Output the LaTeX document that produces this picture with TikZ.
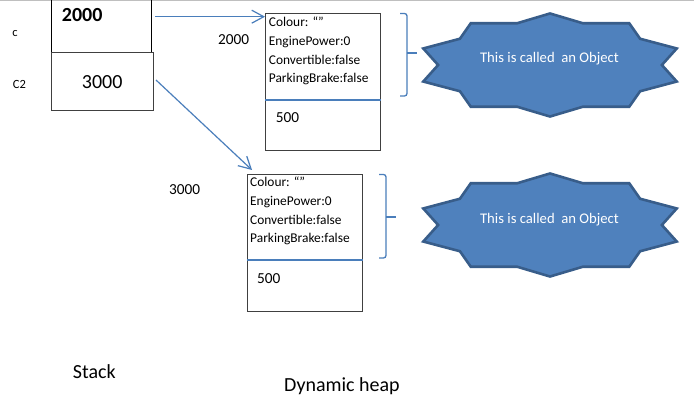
\documentclass[tikz,border=0pt]{standalone}
\usepackage{fontspec}
\setmainfont{Carlito}
\usetikzlibrary{arrows.meta}
\definecolor{lineblue}{HTML}{4A7EBB}
\definecolor{starfill}{HTML}{4F81BD}
\definecolor{starline}{HTML}{385D8A}
\definecolor{boxline}{HTML}{404040}
\tikzset{
  txt/.style={anchor=base west, inner sep=0pt, font=\fontsize{13.4}{16}\selectfont},
  label15/.style={anchor=base west, inner sep=0pt, font=\fontsize{15.3}{18}\selectfont},
  big/.style={anchor=base west, inner sep=0pt, font=\fontsize{20}{24}\selectfont},
  small/.style={anchor=base west, inner sep=0pt, font=\fontsize{12.5}{14}\selectfont},
  heapbox/.style={draw=boxline, line width=1pt, minimum width=115pt, anchor=north west, inner sep=0pt},
  divider/.style={draw=lineblue, line width=1.5pt},
  ptr/.style={draw=lineblue, line width=1.2pt, -{Straight Barb[length=12pt,width=13pt,line width=1.2pt]}},
  bracestyle/.style={draw=lineblue, line width=1.3pt, rounded corners=2.5pt},
  starshape/.style={fill=starfill, draw=starline, line width=2.6pt, line join=miter},
  startext/.style={text=white, inner sep=0pt, font=\fontsize{14.7}{17}\selectfont, anchor=base}
}
\newcommand{\objstarpath}{(0,-53) -- (33,-43) -- (80,-43) -- (91,-27) -- (128,-17) -- (113,0) -- (128,17) -- (91,27) -- (80,43) -- (33,43) -- (0,53) -- (-33,43) -- (-80,43) -- (-91,27) -- (-128,17) -- (-113,0) -- (-128,-17) -- (-91,-27) -- (-80,-43) -- (-33,-43) -- cycle}
\begin{document}
\begin{tikzpicture}[x=1pt, y=-1pt]
\useasboundingbox (0,0) rectangle (694,409);
\fill[white] (0,0) rectangle (694,409);
\draw[line width=2pt, gray!50] (0,0.5) -- (694,0.5);

% stack
\node[draw=black, line width=1pt, minimum width=100pt, minimum height=55pt, anchor=north west, inner sep=0pt] (s1) at (51,-3) {};
\node[draw=boxline, line width=1pt, minimum width=102pt, minimum height=58pt, anchor=north west, inner sep=0pt] (s2) at (51,52) {};
\node[big, font=\bfseries\fontsize{20}{24}\selectfont] (v1) at (61.7,22) {2000};
\node[big] (v2) at (81.7,89) {3000};
\node[small] (lc) at (12.3,36.7) {c};
\node[small] (lc2) at (12.7,88.3) {C2};

% heap box 1
\node[heapbox, minimum height=137pt] (h1) at (265,13.5) {};
\draw[divider] (h1.west |- 0,100) -- (h1.east |- 0,100);
\node[txt] (a1) at (268.7,27) {Colour: “”};
\node[txt] (a2) at (268.7,45.7) {EnginePower:0};
\node[txt] (a3) at (268.7,64.4) {Convertible:false};
\node[txt] (a4) at (268.7,83) {ParkingBrake:false};
\node[label15] (a5) at (275.7,123) {500};

% heap box 2
\node[heapbox, minimum height=137pt] (h2) at (247,174) {};
\draw[divider] (h2.west |- 0,260) -- (h2.east |- 0,260);
\node[txt] (b1) at (250,187) {Colour: “”};
\node[txt] (b2) at (250,205.7) {EnginePower:0};
\node[txt] (b3) at (250,224.4) {Convertible:false};
\node[txt] (b4) at (250,243) {ParkingBrake:false};
\node[label15] (b5) at (257,283) {500};

% address labels
\node[label15] (l1) at (218,45) {2000};
\node[label15] (l2) at (169,195) {3000};

% pointers
\draw[ptr] ([xshift=3pt]s1.east |- 0,16.7) -- (h1.west |- 0,16.7);
\draw[ptr] ([xshift=2pt]s2.east |- 0,80) -- ([shift={(5,-4)}]h2.north west);

% braces
\draw[bracestyle] (400,13.5) -- (407,13.5) -- (407,96) -- (400,96);
\draw[bracestyle] (407,53) -- (417,53);
\draw[bracestyle] (379,174.5) -- (386,174.5) -- (386,258) -- (379,258);
\draw[bracestyle] (386,217) -- (396,217);

% stars
\begin{scope}[shift={(550,65)}, xscale=0.99, yscale=0.972]
  \draw[starshape] \objstarpath;
\end{scope}
\node[startext] (o1) at (549.5,63) {This is called\ \ an Object};
\begin{scope}[shift={(550,225)}, xscale=0.99, yscale=0.972]
  \draw[starshape] \objstarpath;
\end{scope}
\node[startext] (o2) at (549.5,223) {This is called\ \ an Object};

% captions
\node[big] (st) at (72.7,378) {Stack};
\node[big] (dh) at (284,391.5) {Dynamic heap};
\end{tikzpicture}
\end{document}
